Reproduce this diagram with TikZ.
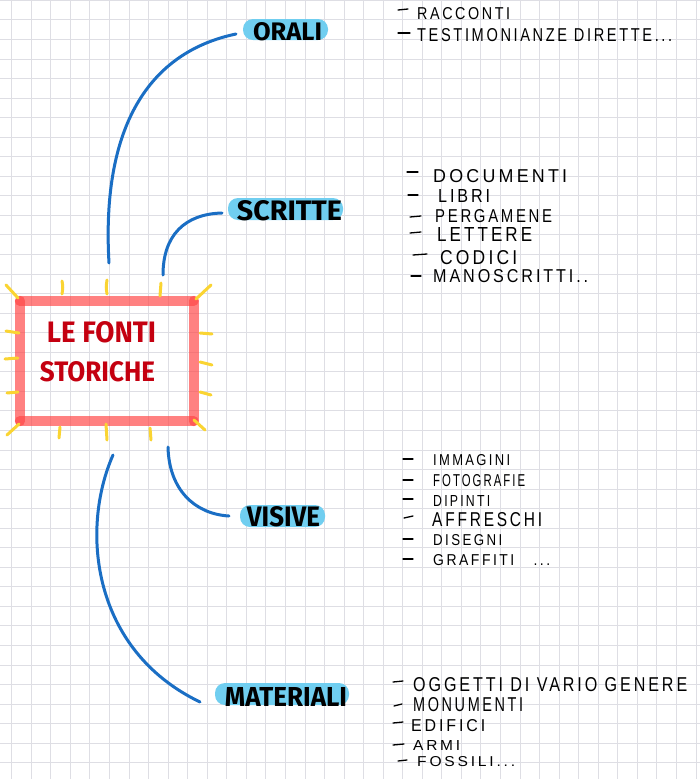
\documentclass[tikz,border=0pt]{standalone}
\usepackage{fontspec}
\usepackage{graphicx}
\newfontfamily\labfont{Fira Sans}
\newfontfamily\handfont[LetterSpace=18]{Liberation Sans}
\definecolor{gridgray}{RGB}{222,222,228}
\definecolor{framered}{RGB}{255,70,70}
\definecolor{titlered}{RGB}{196,0,16}
\definecolor{rayyellow}{RGB}{250,212,50}
\definecolor{linkblue}{RGB}{26,110,196}
\definecolor{pillblue}{RGB}{112,206,240}
\newcommand{\fitbox}[3]{\resizebox{#1pt}{#2pt}{#3}}
\begin{document}
\begin{tikzpicture}[x=1pt,y=-1pt,
  gridline/.style={draw=gridgray, line width=0.9pt},
  frame/.style={draw=framered, draw opacity=0.68, line width=10pt, line cap=round},
  ray/.style={draw=rayyellow, line width=3pt, line cap=round},
  link/.style={draw=linkblue, line width=3pt, line cap=round},
  pill/.style={fill=pillblue, rounded corners=10pt, inner sep=0pt},
  lab/.style={inner sep=0pt, font=\labfont\bfseries, text=black},
  titletext/.style={inner sep=0pt, font=\labfont\bfseries, text=titlered},
  item/.style={inner sep=0pt, anchor=west, font=\handfont, text=black},
  dashline/.style={draw=black, line width=1.3pt, line cap=round}]
\useasboundingbox (0,0) rectangle (700,779);
\fill[white] (0,0) rectangle (700,779);
% grid
\foreach \i in {0,...,35} \draw[gridline] ({11.7+\i*19.55},0) -- ({11.7+\i*19.55},779);
\foreach \j in {0,...,39} \draw[gridline] (0,{0.3+\j*19.55}) -- (700,{0.3+\j*19.55});

% central box
\node[inner sep=0pt, minimum width=173.5pt, minimum height=120pt] (box) at (106.75,361) {};
\draw[frame] (box.north west) -- (box.north east);
\draw[frame] (box.north east) -- (box.south east);
\draw[frame] (box.south east) -- (box.south west);
\draw[frame] (box.south west) -- (box.north west);
\node[titletext] (t1) at (101.5,332.5) {\fitbox{109}{21}{LE FONTI}};
\node[titletext] (t2) at (97.5,372) {\fitbox{115}{20}{STORICHE}};

% yellow rays
\draw[ray] (6,285) -- (18,298);
\draw[ray] (62,281) .. controls (63,287) .. (62,294);
\draw[ray] (107,280) .. controls (106,287) .. (107,294);
\draw[ray] (161,283) -- (160,296);
\draw[ray] (211,285) -- (196,299);
\draw[ray] (6,331) -- (19,333);
\draw[ray] (5,359) -- (18,358);
\draw[ray] (7,393) -- (18,392);
\draw[ray] (200,333) -- (212,334);
\draw[ray] (200,362) -- (212,365);
\draw[ray] (200,392) -- (211,395);
\draw[ray] (60,427) -- (59,438);
\draw[ray] (106,424) .. controls (107,432) .. (107,440);
\draw[ray] (150,428) -- (151,440);
\draw[ray] (7,435) -- (19,424);
\draw[ray] (194,420) -- (205,430);

% labels
\node[pill, minimum width=85pt, minimum height=21pt] (orali) at (285.5,29.5) {};
\node[lab] (oralit) at (287.5,31.5) {\fitbox{69}{18}{ORALI}};
\node[pill, minimum width=115pt, minimum height=22pt] (scritte) at (285.5,209) {};
\node[lab] (scrittet) at (289.5,210.5) {\fitbox{105}{20}{SCRITTE}};
\node[pill, minimum width=85pt, minimum height=22pt] (visive) at (282.5,516) {};
\node[lab] (visivet) at (283.5,516.5) {\fitbox{73}{20}{VISIVE}};
\node[pill, minimum width=134pt, minimum height=22pt] (materiali) at (282,694) {};
\node[lab] (materialit) at (286,696.5) {\fitbox{122}{19}{MATERIALI}};

% connectors
\coordinate (oS) at (109,263);
\coordinate (oE) at (236,34);
\draw[link] (oS) .. controls (101,125) and (150,52) .. (oE);
\coordinate (sS) at (163,275);
\coordinate (sE) at (222,213);
\draw[link] (sS) .. controls (163,235) and (185,214) .. (sE);
\coordinate (vS) at (168,447);
\coordinate (vE) at (229,516);
\draw[link] (vS) .. controls (169,490) and (195,514) .. (vE);
\coordinate (mS) at (113,455);
\coordinate (mE) at (200,702);
\draw[link] (mS) .. controls (80,530) and (92,650) .. (mE);

% ORALI list
\draw[dashline] (398,10) -- (408,9);
\node[item] (o1) at (417,14) {\fitbox{93}{12}{RACCONTI}};
\draw[dashline] (398,33) -- (410,33);
\node[item] (o2) at (417,35) {\fitbox{255}{13}{TESTIMONIANZE DIRETTE...}};

% SCRITTE list
\draw[dashline] (407,172) -- (418,172);
\node[item] (s1) at (433,176.5) {\fitbox{134}{13}{DOCUMENTI}};
\draw[dashline] (408,195) -- (418,195);
\node[item] (s2) at (438,196) {\fitbox{52}{13}{LIBRI}};
\draw[dashline] (410,217) -- (421,216);
\node[item] (s3) at (435,216.5) {\fitbox{117}{13}{PERGAMENE}};
\draw[dashline] (410,233) -- (421,232);
\node[item] (s4) at (437,234.5) {\fitbox{95}{14}{LETTERE}};
\draw[dashline] (413,255) -- (427,254);
\node[item] (s5) at (440,257.5) {\fitbox{77}{14}{CODICI}};
\draw[dashline] (411,276) -- (421,276);
\node[item] (s6) at (433,276.5) {\fitbox{155}{13}{MANOSCRITTI..}};

% VISIVE list
\draw[dashline] (403,459) -- (413,459);
\node[item] (v1) at (433,460.5) {\fitbox{77}{11}{IMMAGINI}};
\draw[dashline] (403,480) -- (413,480);
\node[item] (v2) at (433,481) {\fitbox{92}{12}{FOTOGRAFIE}};
\draw[dashline] (403,499) -- (413,499);
\node[item] (v3) at (433,500.5) {\fitbox{57}{11}{DIPINTI}};
\draw[dashline] (404,518) -- (413,516);
\node[item] (v4) at (432,520) {\fitbox{110}{14}{AFFRESCHI}};
\draw[dashline] (403,539) -- (413,539);
\node[item] (v5) at (433,540.5) {\fitbox{69}{11}{DISEGNI}};
\draw[dashline] (403,559) -- (413,559);
\node[item] (v6) at (433,560) {\fitbox{117}{11}{GRAFFITI~~ ...}};

% MATERIALI list
\draw[dashline] (393,682) -- (403,681);
\node[item] (m1) at (413,685) {\fitbox{274}{14}{OGGETTI DI VARIO GENERE}};
\draw[dashline] (394,706) -- (402,704);
\node[item] (m2) at (413,705) {\fitbox{110}{14}{MONUMENTI}};
\draw[dashline] (393,723) -- (403,722);
\node[item] (m3) at (411,726) {\fitbox{74}{12}{EDIFICI}};
\draw[dashline] (393,745) -- (404,744);
\node[item] (m4) at (413,745) {\fitbox{47}{10}{ARMI}};
\draw[dashline] (398,761) -- (407,760);
\node[item] (m5) at (417,762) {\fitbox{98}{10}{FOSSILI...}};
\end{tikzpicture}
\end{document}
